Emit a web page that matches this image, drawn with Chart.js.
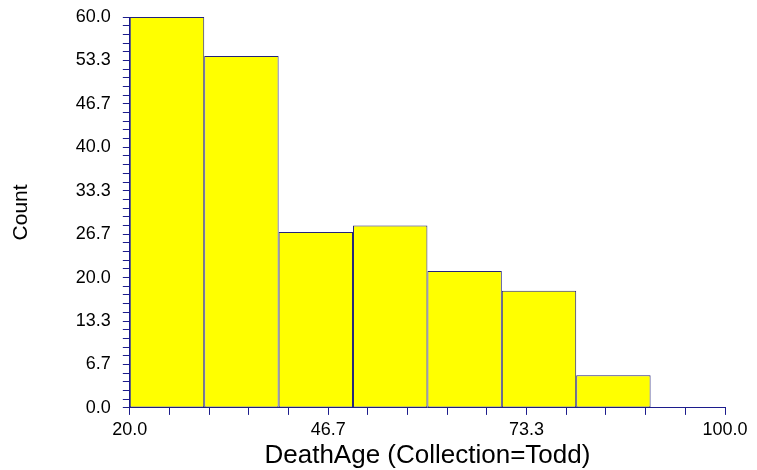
<!DOCTYPE html>
<html>
<head>
<meta charset="utf-8">
<script src="https://cdn.jsdelivr.net/npm/chart.js@4.4.1/dist/chart.umd.min.js"></script>
<style>
  html, body { margin: 0; padding: 0; background: #ffffff; }
  #wrap { width: 757px; height: 470px; position: relative; }
</style>
</head>
<body>
<div id="wrap"><canvas id="c" width="757" height="470"></canvas></div>
<script>
// Histogram bins of DeathAge (bin width 10)
const binLower = [20, 30, 40, 50, 60, 70, 80, 90];
const binWidth = 10;
const counts = [60, 54, 27, 28, 21, 18, 5, 0];

// Axis ranges and tick settings
const xRange = [20, 100];
const yRange = [0, 60];
const xTickCount = 15;   // minor tick intervals on x
const yTickCount = 45;   // minor tick intervals on y
const labelEvery = 5;    // a label on every 5th tick

const axisColor = '#1c1c8c';
const barColor = '#ffff00';
const barEdge = '#23237a';

function makeTicks(range, n) {
  const out = [];
  for (let i = 0; i <= n; i++) out.push({ value: range[0] + (range[1] - range[0]) * i / n });
  return out;
}

const points = binLower.map((lo, i) => ({ x: lo + binWidth / 2, y: counts[i] }));

// Chart.js sizes bars from the smallest tick spacing; widen them to one full bin.
const xStep = (xRange[1] - xRange[0]) / xTickCount;
const binSpan = binWidth / xStep;

const fontFamily = '"Liberation Sans", Arial, sans-serif';

new Chart(document.getElementById('c'), {
  type: 'bar',
  data: {
    datasets: [{
      data: points,
      backgroundColor: barColor,
      borderColor: barEdge,
      borderWidth: 1,
      borderSkipped: false,
      barPercentage: 1,
      categoryPercentage: binSpan
    }]
  },
  options: {
    responsive: false,
    animation: false,
    devicePixelRatio: 1,
    layout: { autoPadding: false, padding: { top: 17, right: 32, left: 3, bottom: 0 } },
    plugins: { legend: { display: false }, tooltip: { enabled: false } },
    scales: {
      x: {
        type: 'linear',
        offset: false,
        min: xRange[0], max: xRange[1],
        afterBuildTicks: s => { s.ticks = makeTicks(xRange, xTickCount); },
        grid: { offset: false, drawOnChartArea: false, drawTicks: true, tickLength: 7, color: axisColor, lineWidth: 1 },
        border: { display: true, color: axisColor, width: 1 },
        ticks: {
          autoSkip: false, maxRotation: 0, padding: 6,
          color: '#000', font: { family: fontFamily, size: 18, lineHeight: 1.0 },
          callback: (v, i) => (i % labelEvery === 0 ? v.toFixed(1) : '')
        },
        title: { display: true, text: 'DeathAge (Collection=Todd)', color: '#000',
                 font: { family: fontFamily, size: 26, lineHeight: 0.85 }, padding: { top: 0, bottom: 3 } }
      },
      y: {
        type: 'linear',
        min: yRange[0], max: yRange[1],
        afterBuildTicks: s => { s.ticks = makeTicks(yRange, yTickCount); },
        // the top label may sit on the plot edge; no extra room above it
        afterFit: s => { s.paddingTop = 0; s.paddingBottom = 0; },
        grid: { drawOnChartArea: false, drawTicks: true, tickLength: 7, color: axisColor, lineWidth: 1 },
        border: { display: true, color: axisColor, width: 1 },
        ticks: {
          autoSkip: false, padding: 12,
          color: '#000', font: { family: fontFamily, size: 18 },
          callback: (v, i) => (i % labelEvery === 0 ? v.toFixed(1) : '')
        },
        title: { display: true, text: 'Count', color: '#000',
                 font: { family: fontFamily, size: 21 }, padding: { top: 6, bottom: 29.6 } }
      }
    }
  }
});
</script>
</body>
</html>
